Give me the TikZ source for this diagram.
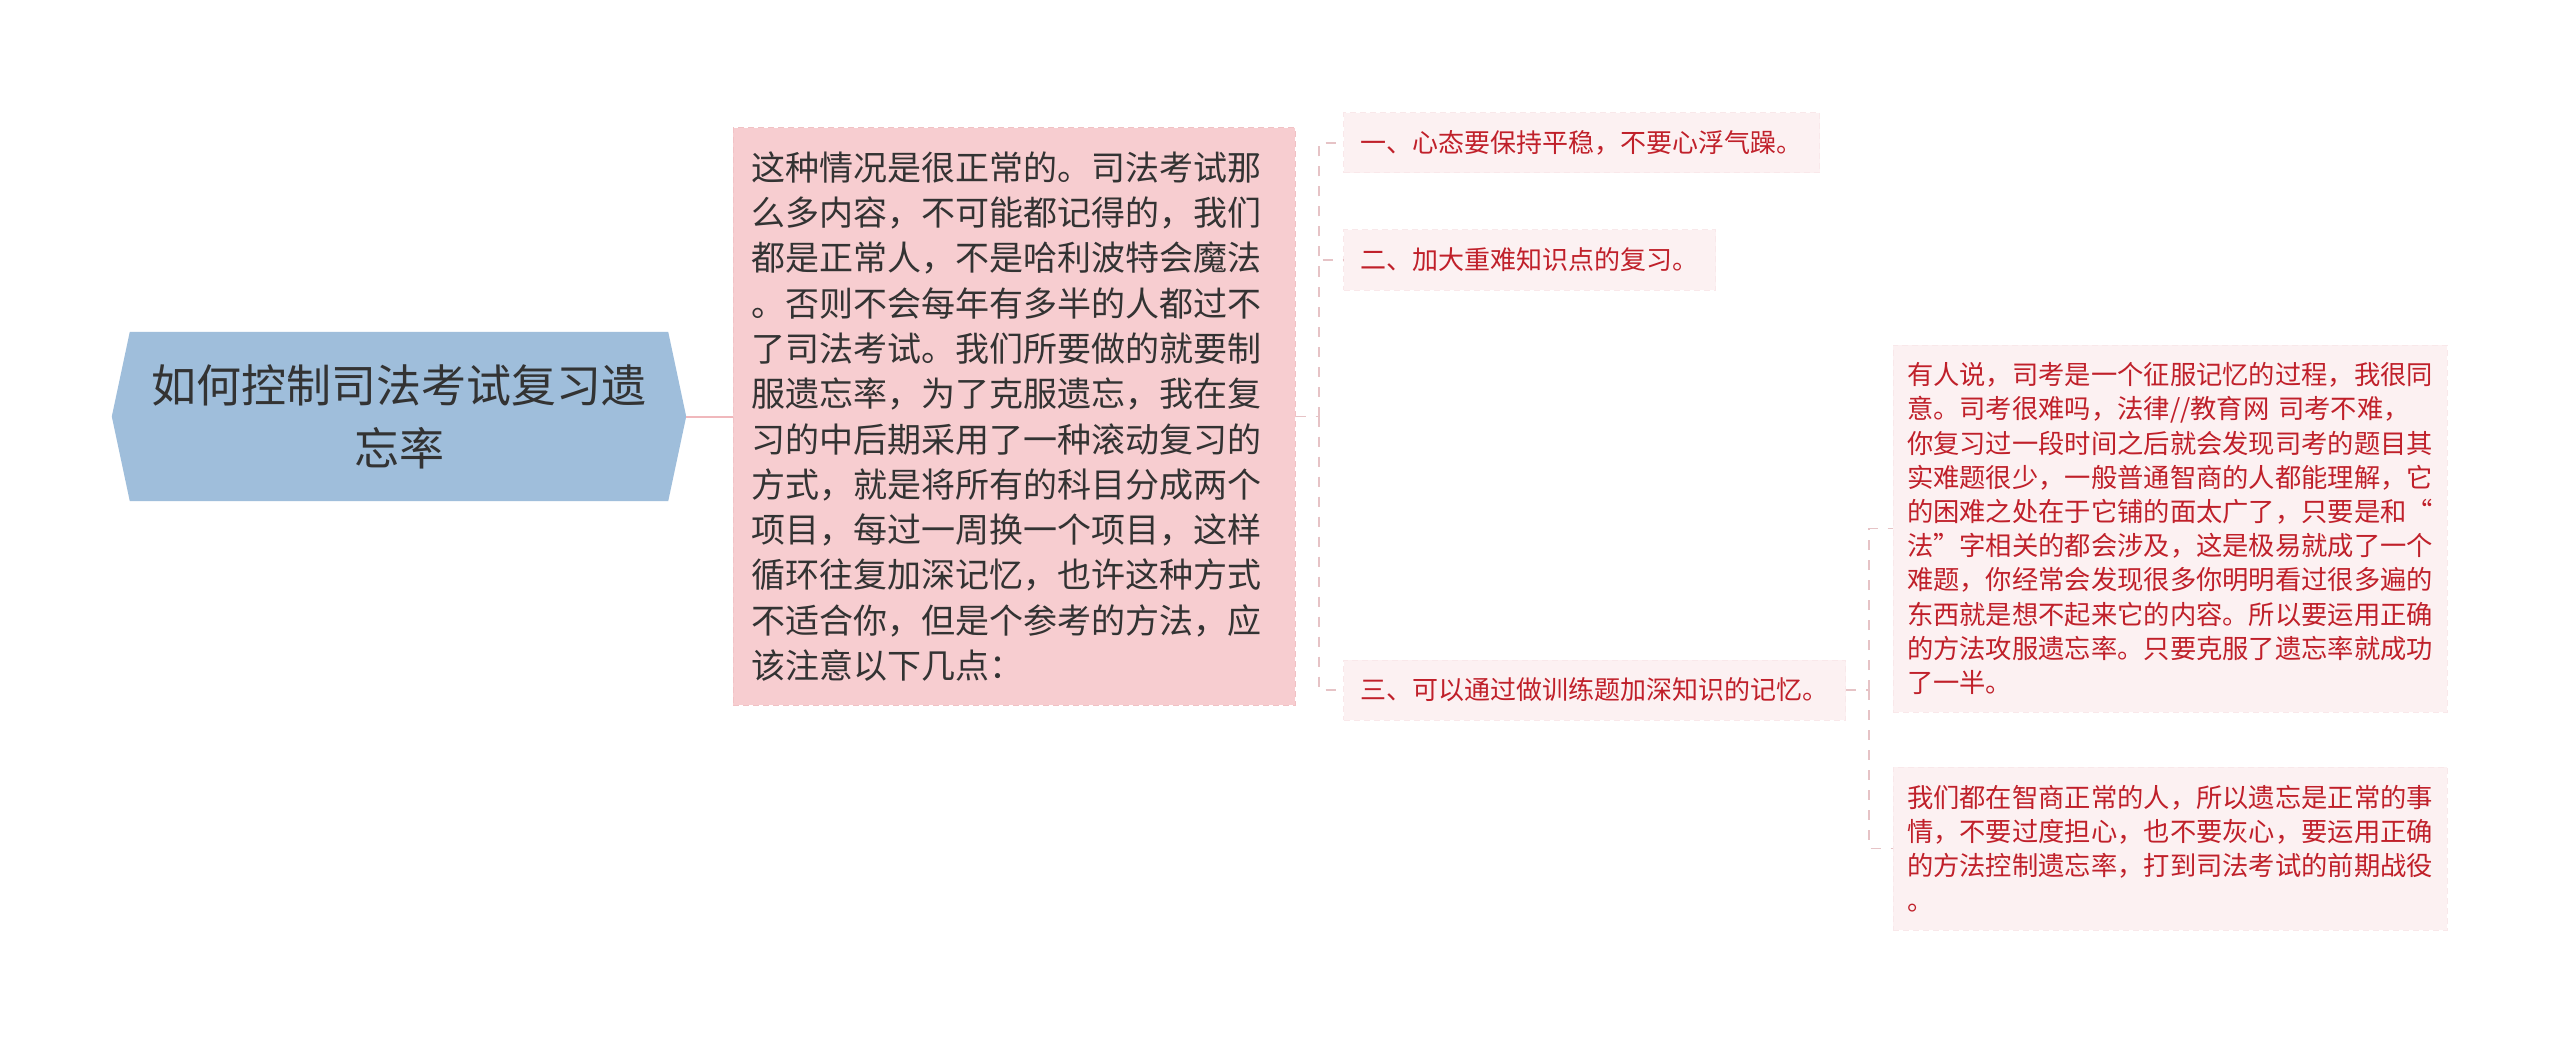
\documentclass[tikz,border=0pt]{standalone}
\usepackage{fontspec}
\setmainfont{Noto Sans CJK SC}
\definecolor{rootblue}{HTML}{9FBEDB}
\definecolor{maintext}{HTML}{333333}
\definecolor{mainpink}{HTML}{F7CDD0}
\definecolor{mainedge}{HTML}{F1C2C5}
\definecolor{itemfill}{HTML}{FCF1F2}
\definecolor{itemedge}{HTML}{F9E8EA}
\definecolor{itemtext}{HTML}{C0202A}
\definecolor{linkpink}{HTML}{F0B8BC}
\definecolor{dashpink}{HTML}{E6C3C6}
\pgfdeclarelayer{bg}
\pgfsetlayers{bg,main}
\begin{document}
\begin{tikzpicture}[x=1pt,y=-1pt,
  rootnode/.style={shape=rectangle, minimum width=538pt, minimum height=169pt,
    align=center, text=maintext, inner sep=0pt,
    font=\fontsize{45pt}{63pt}\selectfont},
  mainbox/.style={shape=rectangle, fill=mainpink, draw=mainedge,
    dash pattern=on 6pt off 4pt, line width=1pt,
    text width=526pt, inner xsep=18pt, inner ysep=0pt,
    minimum height=577pt, align=left, text=maintext,
    font=\fontsize{34pt}{45.3pt}\selectfont},
  itembox/.style={shape=rectangle, fill=itemfill, draw=itemedge,
    dash pattern=on 6pt off 4pt, line width=1pt,
    inner xsep=17pt, inner ysep=0pt, minimum height=60pt,
    text=itemtext, anchor=west, font=\fontsize{26pt}{34pt}\selectfont},
  detailbox/.style={shape=rectangle, fill=itemfill, draw=itemedge,
    dash pattern=on 6pt off 4pt, line width=1pt,
    text width=526pt, inner xsep=14pt, inner ysep=0pt, align=left,
    text=itemtext, font=\fontsize{26.3pt}{34.2pt}\selectfont},
  solidlink/.style={draw=linkpink, line width=2pt},
  dashlink/.style={draw=dashpink, line width=1.5pt, dash pattern=on 10pt off 10pt}
]
\begin{pgfonlayer}{bg}
\fill[white] (0,0) rectangle (2560,1043);
\end{pgfonlayer}
\useasboundingbox (0,0) rectangle (2560,1043);

% root
\node[rootnode] (root) at (399,416.5) {如何控制司法考试复习遗\\忘率};
\begin{pgfonlayer}{bg}
\fill[rootblue] (root.north west) -- (root.north east) -- ([xshift=18pt]root.east)
  -- (root.south east) -- (root.south west) -- ([xshift=-18pt]root.west) -- cycle;
\end{pgfonlayer}

% main text box
\node[mainbox] (main) at (1014,416.5) {这种情况是很正常的。司法考试那\\
么多内容，不可能都记得的，我们\\
都是正常人，不是哈利波特会魔法\\
。否则不会每年有多半的人都过不\\
了司法考试。我们所要做的就要制\\
服遗忘率，为了克服遗忘，我在复\\
习的中后期采用了一种滚动复习的\\
方式，就是将所有的科目分成两个\\
项目，每过一周换一个项目，这样\\
循环往复加深记忆，也许这种方式\\
不适合你，但是个参考的方法，应\\
该注意以下几点：};

% items
\node[itembox] (i1) at (1343,143) {一、心态要保持平稳，不要心浮气躁。};
\node[itembox] (i2) at (1343,260) {二、加大重难知识点的复习。};
\node[itembox] (i3) at (1343,690) {三、可以通过做训练题加深知识的记忆。};

% details
\node[detailbox, minimum height=367pt] (d1) at (2170,528.5) {有人说，司考是一个征服记忆的过程，我很同\\
意。司考很难吗，法律//教育网 司考不难，\\
你复习过一段时间之后就会发现司考的题目其\\
实难题很少，一般普通智商的人都能理解，它\\
的困难之处在于它铺的面太广了，只要是和“\\
法”字相关的都会涉及，这是极易就成了一个\\
难题，你经常会发现很多你明明看过很多遍的\\
东西就是想不起来它的内容。所以要运用正确\\
的方法攻服遗忘率。只要克服了遗忘率就成功\\
了一半。};
\node[detailbox, minimum height=163pt] (d2) at (2170,848.5) {我们都在智商正常的人，所以遗忘是正常的事\\
情，不要过度担心，也不要灰心，要运用正确\\
的方法控制遗忘率，打到司法考试的前期战役\\
。};

% connectors
\draw[solidlink] ([xshift=18pt]root.east) -- (main.west);
\coordinate (j1) at (1319,416.5);
\coordinate (j2) at (1869,690);
\draw[dashlink] (main.east) -- (j1);
\draw[dashlink] (j1) |- (i1.west);
\draw[dashlink] (j1) |- (i2.west);
\draw[dashlink] (j1) |- (i3.west);
\draw[dashlink] (i3.east) -- (j2);
\draw[dashlink] (j2) |- (d1.west);
\draw[dashlink] (j2) |- (d2.west);
\end{tikzpicture}
\end{document}
